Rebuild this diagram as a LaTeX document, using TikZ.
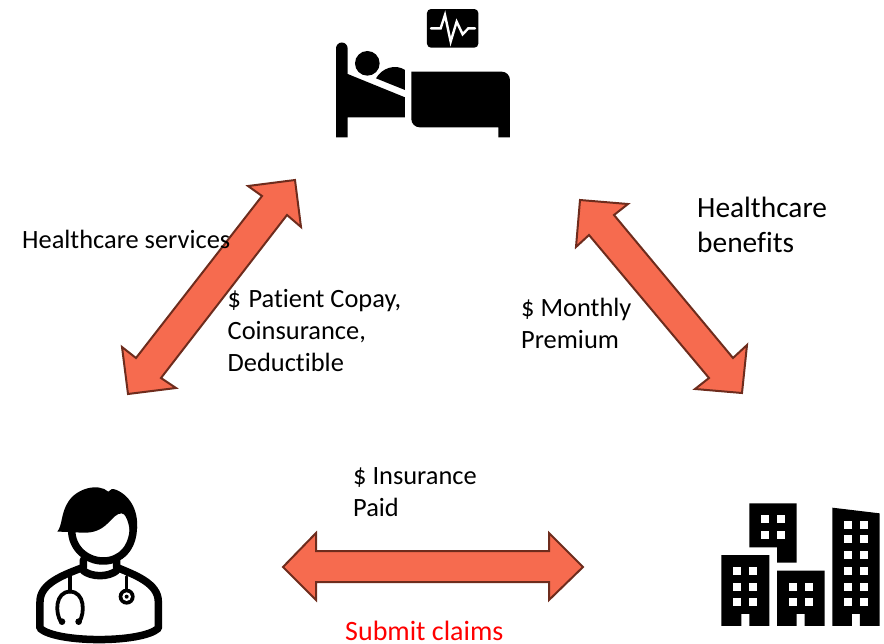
\documentclass[tikz,border=0pt]{standalone}
\usepackage{fontspec}
\setmainfont[Ligatures=NoCommon]{Carlito}
\definecolor{arrowfill}{HTML}{F66B4F}
\definecolor{arrowline}{HTML}{6E2C1D}
\tikzset{
  blockarrow/.style={fill=arrowfill, draw=arrowline, line width=2pt, line join=miter},
  lbl/.style={anchor=base west, inner sep=0pt, align=left, font=\fontsize{26.4}{32}\selectfont},
  lblbig/.style={lbl, font=\fontsize{29.4}{35}\selectfont},
  lblred/.style={anchor=base west, inner sep=0pt, text=red, font=\fontsize{28}{32}\selectfont},
  icon/.style={fill=black, draw=none},
  hole/.style={fill=white, draw=none}
}
\begin{document}
\begin{tikzpicture}[x=1pt, y=-1pt, line join=round, line cap=round]
    \useasboundingbox (0,0) rectangle (884,643);
    % arrows
    \draw[blockarrow] (295,180)--(248,186)--(262,196)--(136,358)--(122,347)--(128,394)--(176,388)--(161,378)--(287,215)--(301,227)--cycle;
    \draw[blockarrow] (580,200)--(628,204)--(614,215)--(733,358)--(747,345)--(742,393)--(695,389)--(709,378)--(589,235)--(576,247)--cycle;
    \draw[blockarrow] (283,567)--(316,533)--(316,551)--(549,551)--(549,533)--(583,567)--(549,600)--(549,582)--(316,582)--(316,600)--cycle;
    % labels
    \node[lbl] (services) at (22,248) {Healthcare services};
    \node[lbl] (copay) at (227.5,371) {\$\hspace{1.5pt} Patient Copay,\\Coinsurance,\\Deductible};
    \node[lbl] (premium) at (521,348) {\$ Monthly\\Premium};
    \node[lblbig] (benefits) at (697,252) {Healthcare\\benefits};
    \node[lbl] (paid) at (353,516) {\$ Insurance\\Paid};
    \node[lblred] (claims) at (345,640) {Submit claims};
    % patient
    \begin{scope}[shift={(320,0)}, x=.3333pt, y=-.3333pt]
        \fill[icon, rounded corners=4pt] (321,27) rectangle (475,143);
        \draw[white, line width=2.4pt, line join=miter] (333,85)--(362,85)--(375,45)--(392,125)--(410,65)--(428,103)--(445,85)--(465,85);
        \fill[icon] (48,412)--(48,145) arc[start angle=180, end angle=360, radius=17.5]--(83,222)--(255,292)--(255,352)--(83,352)--(83,412)--cycle;
        \fill[icon] (142,190) circle[radius=37];
        \fill[icon] (168,235) .. controls (185,205) and (225,190) .. (255,210)--(255,270)--cycle;
        \fill[icon] (274,215)--(545,215) arc[start angle=270, end angle=360, radius=25]--(570,412)--(535,412)--(535,382)--(299,382) arc[start angle=90, end angle=180, radius=25]--cycle;
    \end{scope}
    % doctor
    \begin{scope}[shift={(20,480)}, x=.3333pt, y=-.3333pt]
        \draw[line width=7.5pt] (155,150) .. controls (155,205) and (200,243) .. (250,243) .. controls (300,243) and (340,205) .. (340,140);
        \fill[icon] (112,155) .. controls (128,135) and (122,100) .. (145,65) .. controls (170,25) and (235,8) .. (265,35) .. controls (270,27) and (278,25) .. (290,30) .. controls (335,50) and (358,100) .. (350,155)--(330,155) .. controls (325,120) and (315,100) .. (305,100) .. controls (275,100) and (265,155) .. (200,158) .. controls (170,158) and (135,155) .. (112,155)--cycle;
        \draw[line width=7.5pt] (190,240)--(190,262) .. controls (130,285) and (60,310) .. (60,365)--(60,445) .. controls (110,490) and (365,490) .. (415,445)--(415,365) .. controls (415,310) and (345,285) .. (290,262)--(290,240);
        \draw[line width=7.5pt] (190,272) .. controls (215,292) and (265,292) .. (290,272);
        \draw[line width=3.6pt] (150,290)--(150,335);
        \draw[line width=3.8pt] (123,425) .. controls (105,400) and (105,335) .. (150,335) .. controls (195,335) and (195,400) .. (178,425);
        \fill[icon] (126,425) circle[radius=10];
        \fill[icon] (176,425) circle[radius=10];
        \draw[line width=3.6pt] (320,290)--(320,330);
        \fill[icon] (320,350) circle[radius=24];
        \fill[hole] (320,350) circle[radius=13];
        \fill[icon] (320,350) circle[radius=6];
    \end{scope}
    % insurer
    \begin{scope}[shift={(710,495)}, x=.3333pt, y=-.3333pt]
        \fill[icon] (118,25)--(260,25)--(260,203)--(201,203)--(201,157)--(118,157)--cycle;
        \fill[icon] (34,180)--(178,180)--(178,393)--(118,393)--(118,357)--(94,357)--(94,393)--(34,393)--cycle;
        \fill[icon] (201,227)--(344,227)--(344,393)--(284,393)--(284,357)--(260,357)--(260,393)--(201,393)--cycle;
        \fill[icon] (367,38)--(509,55)--(509,393)--(450,393)--(450,357)--(426,357)--(426,393)--(367,393)--cycle;
        \foreach \x in {153,201}\foreach \y in {60,108}\fill[hole] (\x,\y) rectangle ++(24,24);
        \foreach \x in {70,118}\foreach \y in {216,263,310}\fill[hole] (\x,\y) rectangle ++(24,24);
        \foreach \x in {237,284}\foreach \y in {263,310}\fill[hole] (\x,\y) rectangle ++(24,24);
        \foreach \x in {402,450}\foreach \y in {79,120,168,216,263,310}\fill[hole] (\x,\y) rectangle ++(24,24);
    \end{scope}
\end{tikzpicture}
\end{document}
